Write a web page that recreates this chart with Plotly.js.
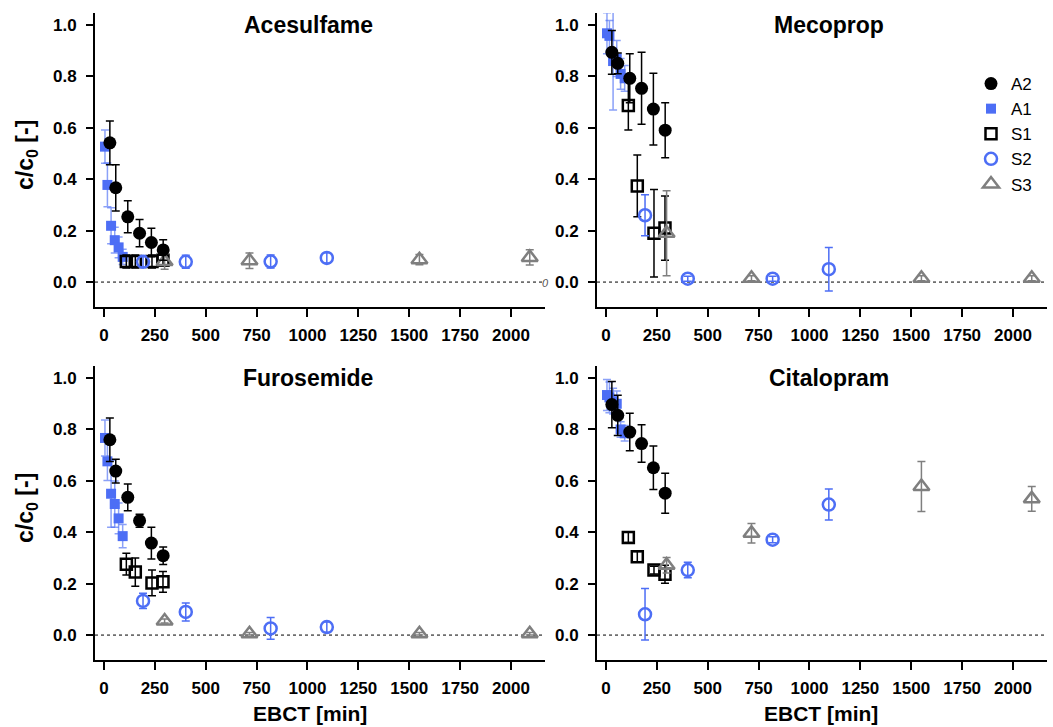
<!DOCTYPE html>
<html>
<head>
<meta charset="utf-8">
<script src="https://cdn.plot.ly/plotly-3.0.1.min.js"></script>
<style>html,body{margin:0;padding:0;background:#fff;}#chart{width:1053px;height:727px;}</style>
</head>
<body>
<div id="chart"></div>
<script>
// EBCT [min] per series
const A2_x = [29, 58, 117, 175, 233, 291];
const A1_x = [5, 17, 35, 53, 72, 92];
const S1_x = [110, 154, 236, 290];
const S2_x = [192, 402, 819, 1095];
const S3_x = [298, 715, 1550, 2092];

const compounds = ["Acesulfame", "Mecoprop", "Furosemide", "Citalopram"];
const seriesNames = ["A2", "A1", "S1", "S2", "S3"];
const xTicks = [0, 250, 500, 750, 1000, 1250, 1500, 1750, 2000];
const yTicks = [0.0, 0.2, 0.4, 0.6, 0.8, 1.0];

// Acesulfame
const acesulfame_A2 = [0.542, 0.367, 0.254, 0.19, 0.154, 0.125];
const acesulfame_A2_err = [0.085, 0.09, 0.062, 0.053, 0.055, 0.04];
const acesulfame_A1 = [0.527, 0.378, 0.219, 0.163, 0.135, 0.098];
const acesulfame_A1_err = [0.065, 0.085, 0.07, 0.05, 0.04, 0.03];
const acesulfame_S1 = [0.08, 0.08, 0.08, 0.085];
const acesulfame_S1_err = [0.025, 0.025, 0.025, 0.02];
const acesulfame_S2 = [0.079, 0.079, 0.08, 0.094];
const acesulfame_S2_err = [0.02, 0.025, 0.025, 0.02];
const acesulfame_S3 = [0.08, 0.083, 0.087, 0.096];
const acesulfame_S3_err = [0.03, 0.03, 0.02, 0.03];

// Mecoprop
const mecoprop_A2 = [0.894, 0.851, 0.793, 0.754, 0.673, 0.591];
const mecoprop_A2_err = [0.085, 0.04, 0.095, 0.14, 0.14, 0.107];
const mecoprop_A1 = [0.968, 0.958, 0.86, 0.87, 0.81, 0.793];
const mecoprop_A1_err = [0.08, 0.06, 0.19, 0.07, 0.06, 0.05];
const mecoprop_S1 = [0.687, 0.374, 0.19, 0.21];
const mecoprop_S1_err = [0.095, 0.12, 0.17, 0.125];
const mecoprop_S2 = [0.26, 0.013, 0.013, 0.05];
const mecoprop_S2_err = [0.08, 0.01, 0.01, 0.085];
const mecoprop_S3 = [0.19, 0.015, 0.015, 0.015];
const mecoprop_S3_err = [0.165, 0.01, 0.01, 0.01];

// Furosemide
const furosemide_A2 = [0.76, 0.638, 0.536, 0.445, 0.358, 0.309];
const furosemide_A2_err = [0.085, 0.046, 0.052, 0.025, 0.062, 0.034];
const furosemide_A1 = [0.767, 0.676, 0.55, 0.51, 0.454, 0.385];
const furosemide_A1_err = [0.07, 0.075, 0.13, 0.09, 0.06, 0.045];
const furosemide_S1 = [0.276, 0.245, 0.203, 0.207];
const furosemide_S1_err = [0.042, 0.055, 0.05, 0.04];
const furosemide_S2 = [0.133, 0.09, 0.026, 0.031];
const furosemide_S2_err = [0.03, 0.035, 0.042, 0.02];
const furosemide_S3 = [0.055, 0.005, 0.005, 0.005];
const furosemide_S3_err = [0.008, 0.005, 0.005, 0.005];

// Citalopram
const citalopram_A2 = [0.897, 0.855, 0.79, 0.745, 0.651, 0.552];
const citalopram_A2_err = [0.09, 0.078, 0.073, 0.073, 0.085, 0.078];
const citalopram_A1 = [0.934, 0.925, 0.91, 0.90, 0.80, 0.785];
const citalopram_A1_err = [0.06, 0.06, 0.05, 0.05, 0.03, 0.03];
const citalopram_S1 = [0.38, 0.305, 0.253, 0.237];
const citalopram_S1_err = [0.02, 0.02, 0.015, 0.035];
const citalopram_S2 = [0.081, 0.253, 0.371, 0.508];
const citalopram_S2_err = [0.1, 0.03, 0.012, 0.06];
const citalopram_S3 = [0.272, 0.396, 0.578, 0.53];
const citalopram_S3_err = [0.03, 0.038, 0.097, 0.048];

const data = {
  Acesulfame: {A2: [acesulfame_A2, acesulfame_A2_err], A1: [acesulfame_A1, acesulfame_A1_err], S1: [acesulfame_S1, acesulfame_S1_err], S2: [acesulfame_S2, acesulfame_S2_err], S3: [acesulfame_S3, acesulfame_S3_err]},
  Mecoprop: {A2: [mecoprop_A2, mecoprop_A2_err], A1: [mecoprop_A1, mecoprop_A1_err], S1: [mecoprop_S1, mecoprop_S1_err], S2: [mecoprop_S2, mecoprop_S2_err], S3: [mecoprop_S3, mecoprop_S3_err]},
  Furosemide: {A2: [furosemide_A2, furosemide_A2_err], A1: [furosemide_A1, furosemide_A1_err], S1: [furosemide_S1, furosemide_S1_err], S2: [furosemide_S2, furosemide_S2_err], S3: [furosemide_S3, furosemide_S3_err]},
  Citalopram: {A2: [citalopram_A2, citalopram_A2_err], A1: [citalopram_A1, citalopram_A1_err], S1: [citalopram_S1, citalopram_S1_err], S2: [citalopram_S2, citalopram_S2_err], S3: [citalopram_S3, citalopram_S3_err]}
};
const xs = {A2: A2_x, A1: A1_x, S1: S1_x, S2: S2_x, S3: S3_x};

const BLUE = "#4d6ef5";
const GRAY = "#7f7f7f";
const styles = {
  A2: {marker: {symbol: "circle", size: 13, color: "#000"}, err: "#000", rank: 1},
  A1: {marker: {symbol: "square", size: 10, color: BLUE}, err: "rgba(77,110,245,0.65)", rank: 2},
  S1: {marker: {symbol: "square-open", size: 11, color: "#000", line: {width: 2.5, color: "#000"}}, err: "#000", rank: 3},
  S2: {marker: {symbol: "circle-open", size: 12, color: BLUE, line: {width: 2.5, color: BLUE}}, err: BLUE, rank: 4},
  S3: {marker: {symbol: "triangle-up-open", size: 14, color: GRAY, line: {width: 2.5, color: GRAY}}, err: GRAY, rank: 5}
};
const drawOrder = ["A1", "S1", "S3", "S2", "A2"];

const traces = [];
compounds.forEach((c, i) => {
  const sfx = i === 0 ? "" : String(i + 1);
  drawOrder.forEach(s => {
    const st = styles[s];
    traces.push({
      type: "scatter", mode: "markers", name: s,
      x: xs[s], y: data[c][s][0],
      error_y: {type: "data", array: data[c][s][1], visible: true, color: st.err, thickness: 1.5, width: 4},
      marker: st.marker,
      xaxis: "x" + sfx, yaxis: "y" + sfx,
      showlegend: i === 0, legendrank: st.rank, cliponaxis: true
    });
  });
});

const W = 1053, H = 727;
const colX = [[95, 545], [597, 1047]];
const rowY = [[13, 307], [366, 660]];
const font = "Liberation Sans, Arial, sans-serif";

const layout = {
  width: W, height: H,
  margin: {l: 0, r: 0, t: 0, b: 0},
  paper_bgcolor: "#fff", plot_bgcolor: "#fff",
  font: {family: font, color: "#000"},
  showlegend: true,
  legend: {x: 971 / W, y: 1 - 66 / H, xanchor: "left", yanchor: "top", font: {size: 17, family: font}, bgcolor: "rgba(0,0,0,0)", tracegroupgap: 0},
  annotations: [], shapes: []
};

compounds.forEach((c, i) => {
  const r = Math.floor(i / 2), col = i % 2;
  const sfx = i === 0 ? "" : String(i + 1);
  const xd = [colX[col][0] / W, colX[col][1] / W];
  const yd = [1 - rowY[r][1] / H, 1 - rowY[r][0] / H];
  layout["xaxis" + sfx] = {
    domain: xd, anchor: "y" + sfx, range: [-44, 2167],
    tickvals: xTicks, ticktext: xTicks.map(String),
    showline: true, linewidth: 2, linecolor: "#000", mirror: false,
    ticks: "outside", ticklen: 8, tickwidth: 2, tickcolor: "#000",
    showgrid: false, zeroline: false, ticklabelstandoff: 4,
    tickfont: {size: 17, family: font, weight: "bold"}
  };
  layout["yaxis" + sfx] = {
    domain: yd, anchor: "x" + sfx, range: [-0.097, 1.047],
    tickvals: yTicks, ticktext: yTicks.map(v => v.toFixed(1)),
    showline: true, linewidth: 2, linecolor: "#000",
    ticks: "outside", ticklen: 7, tickwidth: 2, tickcolor: "#000",
    showgrid: false, zeroline: false, ticklabelstandoff: 6,
    tickfont: {size: 17, family: font, weight: "bold"}
  };
  layout.shapes.push({type: "line", xref: "x" + sfx + " domain", yref: "y" + sfx, x0: 0, x1: 1, y0: 0, y1: 0, line: {color: "#000", width: 1, dash: "dot"}, layer: "below"});
  // panel title
  layout.annotations.push({text: "<b>" + c + "</b>", xref: "paper", yref: "paper", x: (col === 0 ? 308 : 829) / W, y: 1 - (rowY[r][0] + 12) / H, xanchor: "center", yanchor: "middle", showarrow: false, font: {size: 23, family: font}});
  if (col === 0) {
    layout.annotations.push({text: "<b>c/c<sub>0</sub> [-]</b>", xref: "paper", yref: "paper", x: 27 / W, y: 1 - (rowY[r][0] + 142) / H, xanchor: "center", yanchor: "middle", textangle: -90, showarrow: false, font: {size: 23, family: font}});
  }
  if (r === 1) {
    layout.annotations.push({text: "<b>EBCT [min]</b>", xref: "paper", yref: "paper", x: (col === 0 ? 310 : 821) / W, y: 1 - 713 / H, xanchor: "center", yanchor: "middle", showarrow: false, font: {size: 21, family: font}});
  }
});
layout.annotations.push({text: "<i>0</i>", xref: "paper", yref: "paper", x: 545 / W, y: 1 - 283 / H, xanchor: "center", yanchor: "middle", showarrow: false, font: {size: 11, family: font, color: "#555"}});

Plotly.newPlot("chart", traces, layout, {displayModeBar: false, staticPlot: true});
</script>
</body>
</html>
